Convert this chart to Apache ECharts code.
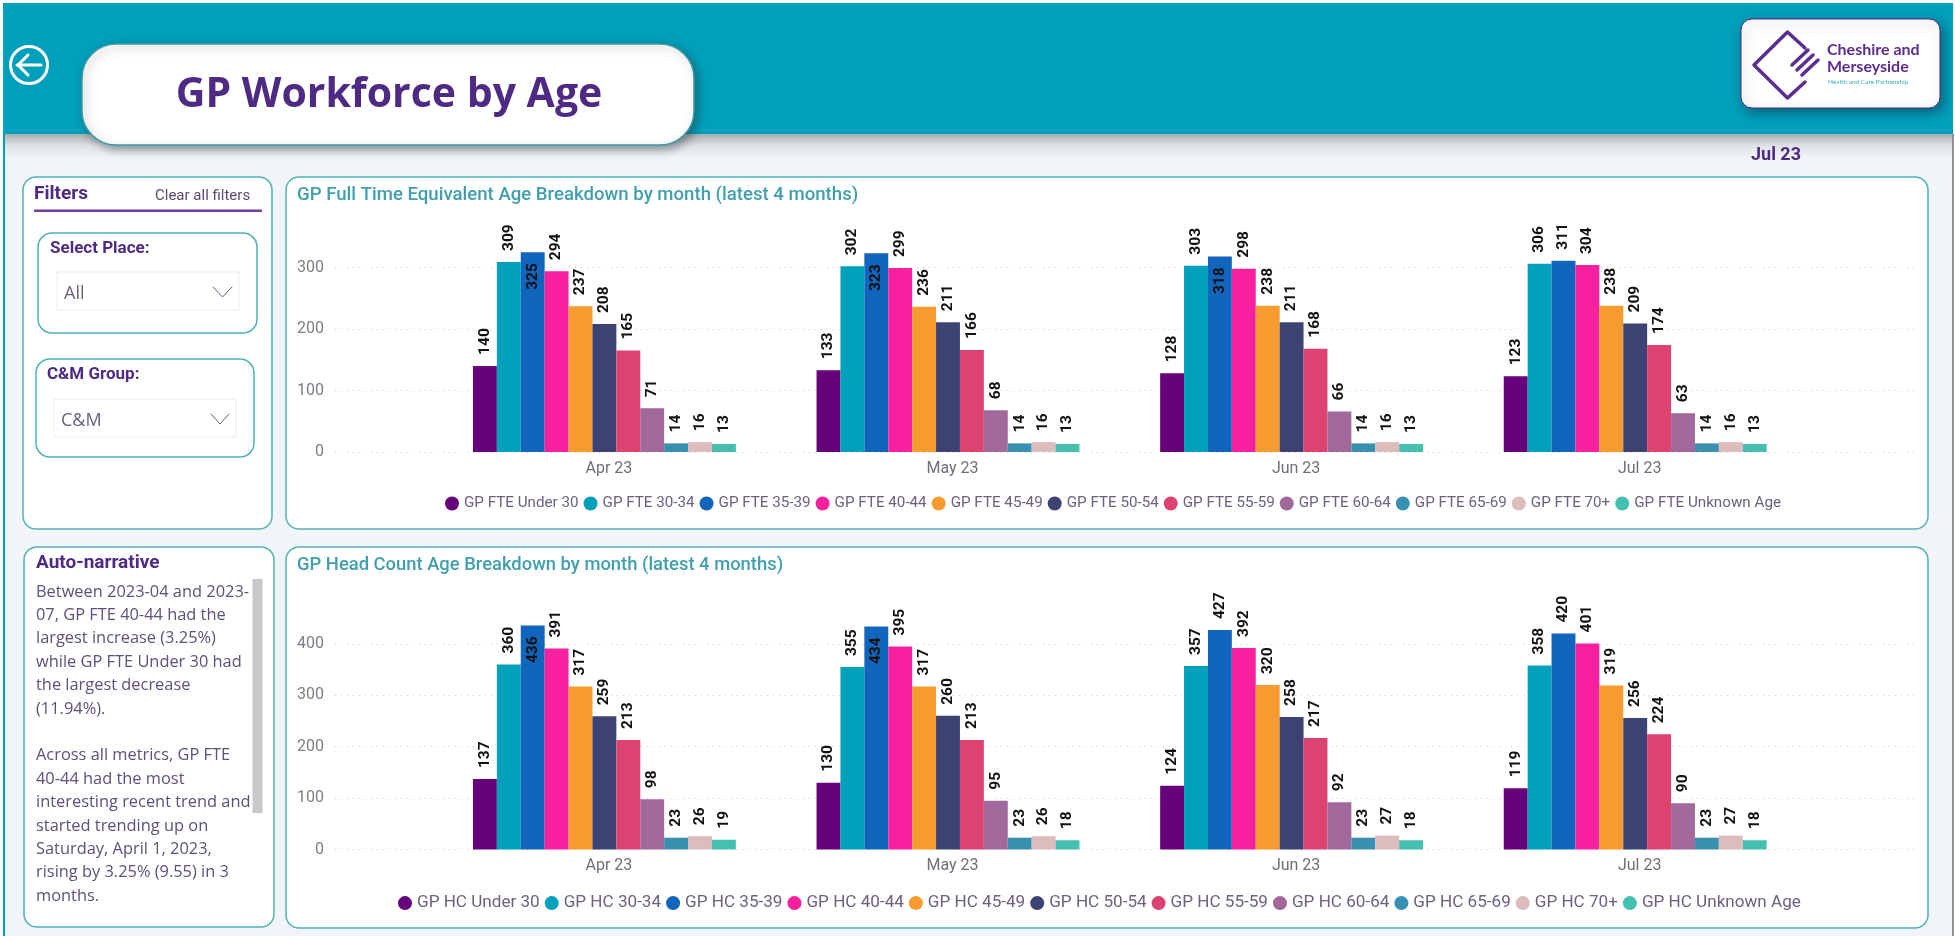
<!DOCTYPE html>
<html><head><meta charset="utf-8">
<style>html,body{margin:0;padding:0;background:#f1f4f8}#c{width:1955px;height:936px}</style>
<script src="https://cdn.jsdelivr.net/npm/echarts@6/dist/echarts.min.js"></script>
</head><body><div id="c"></div>
<script>
const months = ['Apr 23','May 23','Jun 23','Jul 23'];
const ageBands = ['Under 30','30-34','35-39','40-44','45-49','50-54','55-59','60-64','65-69','70+','Unknown Age'];
const fteApr = [140,309,325,294,237,208,165,71,14,16,13];
const fteMay = [133,302,323,299,236,211,166,68,14,16,13];
const fteJun = [128,303,318,298,238,211,168,66,14,16,13];
const fteJul = [123,306,311,304,238,209,174,63,14,16,13];
const hcApr = [137,360,436,391,317,259,213,98,23,26,19];
const hcMay = [130,355,434,395,317,260,213,95,23,26,18];
const hcJun = [124,357,427,392,320,258,217,92,23,27,18];
const hcJul = [119,358,420,401,319,256,224,90,23,27,18];
const yTicksFte = [0,100,200,300];
const yTicksHc = [0,100,200,300,400];
const narrative = ['Between 2023-04 and 2023-','07, GP FTE 40-44 had the','largest increase (3.25%)','while GP FTE Under 30 had','the largest decrease','(11.94%).','','Across all metrics, GP FTE','40-44 had the most','interesting recent trend and','started trending up on','Saturday, April 1, 2023,','rising by 3.25% (9.55) in 3','months.'];

const colors = ['#66037a','#01a0bb','#1265bd','#f7209f','#f59b2f','#3c4373','#dc4370','#a0689b','#3991b2','#dcbcbc','#45c0b0'];
const PURPLE='#4f2a85', TEAL='#00a0bc', EDGE='#4fb3b8', FONT='Roboto', BODY='"Open Sans"';

// which value labels sit inside their bar: [seriesIndex, monthIndex]
const insideFte = [[2,0],[2,1],[2,2]];
const insideHc = [[2,0],[2,1]];

function buildChart(prefix, rows, inside, baseIdx){
  return ageBands.map((b,s)=>({
    type:'bar', name:prefix+' '+b, xAxisIndex:baseIdx+1, yAxisIndex:baseIdx+1,
    barWidth:23.9, barGap:0,
    itemStyle:{color:colors[s]},
    label:{show:true,position:'top',rotate:90,distance:11,align:'left',verticalAlign:'middle',
      color:'#111',fontFamily:FONT,fontWeight:700,fontSize:15.5},
    data:rows.map((r,m)=>{
      const ins=inside.some(p=>p[0]===s&&p[1]===m);
      return ins?{value:r[s],label:{position:'insideTop',align:'right',distance:11}}:{value:r[s]};
    })
  }));
}

// layout: each chart has a wide grid carrying the y axis and gridlines, and an inner one carrying the bars
function grids(top,bottom){return [
  {left:335,right:1955-1915,top:top,height:bottom-top},
  {left:432.6,right:1955-1807,top:top,height:bottom-top}];}
function axes(yMax,ticks,gridBase,labelMargin){
  const x=[
    {type:'category',gridIndex:gridBase,data:months,show:false},
    {type:'category',gridIndex:gridBase+1,data:months,axisLine:{show:false},axisTick:{show:false},
     axisLabel:{color:'#6f6f78',fontFamily:FONT,fontSize:16,margin:labelMargin,padding:[0,0,0,9]}}];
  const y=[
    {type:'value',gridIndex:gridBase,min:0,max:yMax,interval:100,axisLine:{show:false},axisTick:{show:false},
     axisLabel:{color:'#7d7d85',fontFamily:FONT,fontSize:16,margin:11,showMaxLabel:false,
       formatter:v=>ticks.includes(v)?String(v):''},
     splitLine:{show:true,showMaxLine:false,lineStyle:{color:'#cfcfcf',width:1,type:[1,5]}}},
    {type:'value',gridIndex:gridBase+1,min:0,max:yMax,show:false,splitLine:{show:false}}];
  return {x,y};
}
const a1=axes(350,yTicksFte,0,9), a2=axes(450,yTicksHc,2,8);

function panel(x,y,w,h,r){return {type:'rect',shape:{x,y,width:w,height:h,r},style:{fill:'#fff',stroke:EDGE,lineWidth:1.5}};}
function dd(x,y,w,h){return {type:'rect',shape:{x,y,width:w,height:h},style:{fill:'#fff',stroke:'#ececec',lineWidth:1}};}
function txt(x,y,t,size,color,weight,family,align){return {type:'text',x,y,style:{text:t,fontSize:size,fill:color,fontWeight:weight||400,fontFamily:family||FONT,verticalAlign:'middle',align:align||'left'}};}
function line(pts,color,w){return {type:'polyline',shape:{points:pts},style:{stroke:color,lineWidth:w,fill:null,lineCap:'round',lineJoin:'round'}};}

const gfx=[
  {type:'rect',shape:{x:0,y:0,width:1955,height:936},style:{fill:'#fff'}},
  {type:'rect',shape:{x:3,y:3,width:1950,height:933},style:{fill:'#f1f4f8'}},
  {type:'rect',shape:{x:3,y:134,width:1950,height:24},style:{fill:{type:'linear',x:0,y:0,x2:0,y2:1,colorStops:[{offset:0,color:'#a9adb0'},{offset:.5,color:'#dfe2e6'},{offset:1,color:'#f1f4f8'}]}}},
  {type:'rect',shape:{x:3,y:3,width:1950,height:131},style:{fill:TEAL}},
  {type:'rect',shape:{x:3,y:134,width:2,height:802},style:{fill:TEAL}},
  {type:'rect',shape:{x:1952,y:134,width:2,height:802},style:{fill:'#8a9298'}},
  {type:'circle',shape:{cx:29,cy:65,r:18.5},style:{fill:null,stroke:'#fff',lineWidth:3}},
  line([[17,65],[41,65]],'#fff',3), line([[28,55],[18,65],[28,75]],'#fff',3),
  {type:'rect',shape:{x:82,y:44,width:612,height:101,r:34},style:{fill:'#fff',stroke:'#3f9aa8',lineWidth:1.5,shadowBlur:10,shadowColor:'rgba(40,60,70,.55)',shadowOffsetX:3,shadowOffsetY:3}},
  txt(389,95,'GP Workforce by Age',41,PURPLE,700,BODY,'center'),
  {type:'rect',shape:{x:1741,y:19,width:199,height:89,r:11},style:{fill:'#fff',stroke:PURPLE,lineWidth:1,shadowBlur:12,shadowColor:'rgba(20,50,70,.6)',shadowOffsetX:3,shadowOffsetY:4}},
  line([[1805,48],[1787.5,32],[1754,65],[1787.5,98],[1805,82]],'#5b2d8e',3.5),
  line([[1792,65],[1808,50]],'#5b2d8e',3.5),line([[1797,70],[1813,55]],'#5b2d8e',3.5),line([[1802,75],[1818,60]],'#5b2d8e',3.5),
  txt(1827,50,'Cheshire and',16,'#5b2d8e',700,'Lato'),
  txt(1827,67,'Merseyside',16,'#5b2d8e',700,'Lato'),
  txt(1828,82,'Health and Care Partnership',6.5,'#35b5c0',400,'Lato'),
  txt(1751,155,'Jul 23',18,PURPLE,700,FONT),
  panel(23,177,249,352,13), panel(286,177,1642,352,13),
  panel(24,547,250,380,13), panel(286,547,1642,381,13),
  txt(34,194,'Filters',19,PURPLE,700,FONT),
  txt(155,196,'Clear all filters',15,'#5b4a74',400,FONT),
  {type:'rect',shape:{x:34,y:209.5,width:228,height:2.5},style:{fill:'#6d3f97'}},
  panel(38,233,219,100,14), txt(50,249,'Select Place:',17,PURPLE,700,FONT), dd(57,272,182,38),
  txt(64,294,'All',18,'#6b5f80',400,BODY), line([[213,287],[222.5,297],[232,287]],'#6b5f80',1),
  panel(36,359,218,98,14), txt(47,375,'C&M Group:',17,PURPLE,700,FONT), dd(54,399,182,38),
  txt(61,421,'C&M',18,'#6b5f80',400,BODY), line([[211,414],[220,424],[229,414]],'#6b5f80',1),
  txt(36,563,'Auto-narrative',19,PURPLE,700,FONT),
  {type:'rect',shape:{x:252.5,y:579,width:10,height:234},style:{fill:'#c8c8c8'}},
  ...narrative.map((t,i)=>t?txt(36,592+i*23.4,t,16.4,'#5f4f7c',400,BODY):null).filter(Boolean),
  txt(297,195,'GP Full Time Equivalent Age Breakdown by month (latest 4 months)',18.6,'#3f9fae',500,FONT),
  txt(297,565,'GP Head Count Age Breakdown by month (latest 4 months)',18.4,'#3f9fae',500,FONT)
];

const fteRows=[fteApr,fteMay,fteJun,fteJul], hcRows=[hcApr,hcMay,hcJun,hcJul];
const fteSeries=buildChart('GP FTE',fteRows,insideFte,0), hcSeries=buildChart('GP HC',hcRows,insideHc,2);
const legendStyle={orient:'horizontal',icon:'circle',itemWidth:14,itemHeight:14,itemGap:5,padding:0,selectedMode:false};

const chart=echarts.init(document.getElementById('c'),null,{renderer:'canvas'});
chart.setOption({
  animation:false, backgroundColor:'#f1f4f8', color:colors,
  graphic:{elements:gfx},
  grid:[...grids(236.75,452),...grids(618.2,849.5)],
  xAxis:[...a1.x,...a2.x], yAxis:[...a1.y,...a2.y],
  legend:[
    {...legendStyle,left:445,top:496,textStyle:{color:'#6d6080',fontFamily:FONT,fontSize:15.2},data:fteSeries.map(s=>s.name)},
    {...legendStyle,left:398,top:894.6,textStyle:{color:'#6d6080',fontFamily:FONT,fontSize:17.1},data:hcSeries.map(s=>s.name)}],
  series:[...fteSeries,...hcSeries]
});
</script></body></html>
